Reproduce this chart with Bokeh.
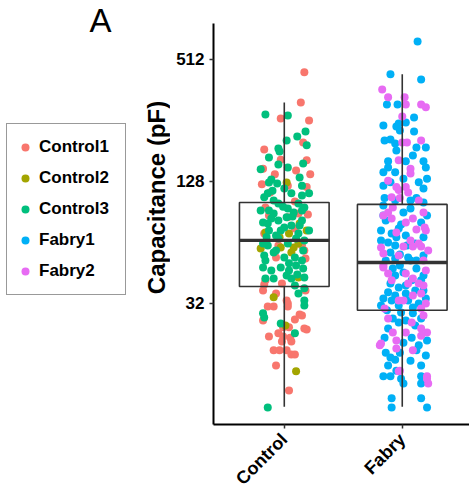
from math import pi
from bokeh.plotting import figure
from bokeh.layouts import row
from bokeh.models import (ColumnDataSource, FixedTicker, BasicTickFormatter,
                          Legend, LegendItem, Label, Range1d)
from bokeh.embed import file_html
from bokeh.resources import INLINE

# ---------------- data ----------------
groups = ["Control", "Fabry"]
group_pos = [1, 2]
series_names = ["Control1", "Control2", "Control3", "Fabry1", "Fabry2"]
series_group = [1, 1, 1, 2, 2]
series_colors = ["#F8766D", "#A3A500", "#00BF7D", "#00B0F6", "#E76BF3"]
y_ticks = [32, 128, 512]

# jitter (category units) and capacitance (pF) of each cell
control1_jitter = [0.17, 0.14, -0.03, 0.21, 0.16, -0.17, -0.03, 0.19, -0.18, 0.10,
                   0.22, -0.08, -0.19, 0.19, 0.03, -0.12, 0.09, -0.16, 0.03, 0.12,
                   0.20, -0.17, 0.09, -0.05, 0.17, -0.07, 0.18, -0.16, -0.02, -0.17,
                   0.18, -0.18, -0.07, -0.14, -0.09, 0.03, 0.13, 0.15, 0.09, -0.01,
                   0.04, 0.19, -0.05, -0.13, -0.01, 0.05, -0.02, 0.06, -0.09, -0.04,
                   0.02, 0.06, 0.09, -0.07, 0.04, 0.17, 0.03, -0.13, 0.15, 0.02,
                   -0.18]
control1_pf = [442, 314, 262, 256, 199, 184, 164, 163, 148, 145,
               139, 139, 124, 120, 122, 113, 102, 95.2, 85.1, 89.0,
               88.0, 70.9, 75.0, 61.9, 58.4, 54.0, 53.4, 41.6, 40.2, 39.7,
               37.1, 37.1, 35.8, 30.9, 30.9, 30.9, 28.2, 27.9, 26.7, 24.4,
               24.4, 23.8, 22.8, 22.0, 22.0, 21.7, 20.8, 20.8, 18.8, 18.8,
               18.8, 17.9, 17.9, 15.8, 11.9, 24.1, 32.0, 87.0, 61.9, 33.1,
               26.4]

control2_jitter = [0.02, 0.13, 0.19, 0.04, -0.04, -0.16, 0.12, 0.08, -0.03, -0.20,
                   0.06, 0.12, -0.09, 0.01, 0.10]
control2_pf = [126.5, 79.4, 73.3, 70.9, 67.8, 71.7, 63.3, 60.5, 60.5, 59.8,
               57.1, 43.0, 34.3, 24.9, 14.8]

control3_jitter = [-0.16, 0.03, 0.18, 0.11, -0.05, -0.04, -0.13, -0.05, 0.16, 0.03,
                   -0.20, 0.13, -0.11, -0.13, -0.06, 0.15, -0.17, -0.14, 0.06, 0.15,
                   0.21, -0.20, -0.13, -0.05, 0.03, 0.12, 0.17, -0.14, -0.05, 0.02,
                   0.15, 0.21, -0.13, 0.00, 0.12, -0.05, 0.03, 0.17, -0.17, -0.09,
                   0.00, 0.09, 0.16, -0.18, -0.11, -0.03, 0.04, 0.16, -0.16, -0.09,
                   0.06, 0.17, 0.17, 0.12, 0.17, 0.17, -0.17, -0.18, -0.03, 0.09,
                   -0.14, -0.09, 0.08, -0.03, -0.18, 0.10, -0.09, 0.15, 0.06, -0.18,
                   -0.07, 0.10, -0.14, 0.15, 0.02, -0.16, 0.09, 0.19, 0.02,
                   -0.11, 0.07, -0.01, 0.13, -0.07, 0.04, -0.15, 0.11, 0.00, -0.10]
control3_pf = [274, 271, 226, 213, 186, 180, 168, 155, 157, 150,
               147, 134, 131, 126.5, 125, 122, 107, 112, 112, 109,
               112, 92.1, 92.1, 99.7, 94.2, 99.7, 95.2, 79.4, 82.2, 85.1,
               82.2, 73.3, 73.3, 75.9, 70.9, 66.9, 63.3, 65.5, 55.2, 57.1,
               54.0, 54.0, 58.4, 48.2, 46.6, 48.2, 46.6, 47.6, 42.5, 42.5,
               42.5, 43.0, 38.0, 35.8, 33.1, 31.3, 27.3, 28.6, 25.5, 22.8,
               9.8, 89.0, 90.0, 73.3, 63.3, 49.3, 103, 92.1, 77.6, 80.3,
               69.3, 66.9, 61.9, 52.2, 44.0, 52.2, 39.3, 193, 204,
               84.1, 86.0, 96.0, 77.6, 58.4, 50.6, 68.0, 44.5, 118, 115]

fabry1_jitter = [0.13, -0.10, 0.16, -0.13, -0.04, 0.10, 0.03, -0.03, -0.05, -0.02,
                 0.10, -0.15, -0.10, -0.06, 0.12, 0.20, -0.12, 0.03, 0.18, -0.12,
                 -0.06, 0.20, 0.21, -0.16, -0.10, 0.14, 0.18, -0.15, -0.06, 0.12,
                 0.07, 0.01, -0.16, -0.14, -0.01, 0.16, -0.09, -0.05, -0.18, -0.12,
                 -0.06, 0.03, 0.11, -0.10, -0.02, 0.05, 0.18, -0.08, -0.06, 0.01,
                 0.12, 0.18, 0.16, -0.10, -0.03, 0.08, 0.11, -0.12, 0.03, -0.16,
                 -0.09, -0.03, 0.05, 0.14, 0.20, -0.13, -0.01, 0.09, -0.08, 0.03,
                 0.16, -0.12, -0.15, 0.08, 0.21, -0.14, -0.10, -0.06, 0.12, 0.20,
                 0.16, -0.16, -0.10, -0.05, -0.01, 0.01, 0.16, 0.16, -0.09, -0.09,
                 0.16, 0.21,
                 -0.16, 0.18, 0.07, 0.21, -0.03, -0.18, 0.18, 0.04, -0.06, -0.14,
                 0.07, -0.02, 0.12, 0.03, 0.18, -0.06, -0.18, 0.09, -0.03, 0.11,
                 0.01, 0.14, -0.02, 0.07, -0.12, 0.01, -0.16, 0.09, -0.05, -0.16]
fabry1_pf = [628, 432, 408, 307, 307, 265, 250, 247, 239, 228,
             226, 204, 206, 197, 188, 188, 161, 161, 161, 150,
             142, 150, 132, 122, 127, 127, 118, 106, 103, 106,
             103, 90.0, 87.0, 82.2, 78.5, 80.3, 70.9, 67.8, 65.5, 64.0,
             61.9, 69.3, 63.3, 57.1, 55.8, 54.0, 55.2, 47.6, 44.0, 45.5,
             47.6, 44.0, 41.6, 40.2, 38.4, 41.6, 37.1, 36.3, 35.8, 33.9,
             33.1, 31.3, 33.1, 32.0, 33.9, 29.6, 28.9, 28.6, 27.0, 26.4,
             27.0, 24.1, 21.7, 21.7, 21.0, 18.3, 17.3, 16.9, 18.8, 17.7,
             15.8, 14.0, 14.0, 14.9, 13.6, 12.9, 14.0, 12.9, 10.9, 9.8,
             10.9, 9.8,
             97.5, 100.8, 94.2, 87.0, 75.0, 73.3, 67.8, 61.9, 53.4, 52.2,
             52.2, 49.3, 52.2, 39.3, 37.1, 35.0, 31.3, 30.6, 25.8, 24.9,
             20.5, 19.9, 18.3, 16.7, 15.8, 132, 142, 172, 182, 242]

fabry2_jitter = [-0.17, -0.12, 0.02, 0.03, 0.16, 0.20, 0.00, 0.00, 0.04, 0.07,
                 0.07, -0.05, -0.03, -0.09, -0.02, -0.08, -0.09, 0.09, 0.19, 0.12,
                 0.01, 0.16, 0.09, -0.18, -0.16, -0.16, -0.12, 0.03, 0.09, 0.05,
                 0.18, 0.09, -0.03, 0.20, -0.15, 0.16, 0.18, -0.08, 0.16, 0.21,
                 0.16, -0.19, -0.05, -0.05, -0.03, 0.21, 0.22, -0.16, 0.18, 0.20,
                 0.14, -0.16, 0.20, 0.16, -0.18, -0.02, 0.21, 0.03,
                 0.05, 0.14, -0.12, 0.03, -0.05, 0.07, 0.22, -0.03, 0.18, -0.09,
                 0.14, 0.01, -0.12, 0.08, 0.03, 0.09, -0.12, 0.16, -0.03]
fabry2_pf = [364, 333, 333, 307, 307, 297, 268, 199, 199, 148,
             140, 120, 116, 107, 106, 95.2, 84.1, 84.1, 75.9, 74.2,
             61.2, 61.2, 61.2, 60.5, 56.5, 49.3, 45.0, 45.0, 42.5, 40.2,
             39.3, 35.0, 33.1, 32.0, 30.2, 30.2, 27.9, 23.0, 24.1, 23.0,
             22.2, 19.9, 21.0, 19.2, 14.8, 14.0, 12.9, 87.0, 90.0, 73.3,
             63.3, 48.2, 46.6, 35.8, 20.3, 14.9, 13.6, 120,
             113, 103, 90.0, 80.3, 71.7, 65.5, 58.4, 55.2, 52.2, 41.6,
             40.2, 33.1, 27.0, 25.8, 23.0, 18.8, 129, 204, 163]

series_jitter = [control1_jitter, control2_jitter, control3_jitter, fabry1_jitter, fabry2_jitter]
series_pf = [control1_pf, control2_pf, control3_pf, fabry1_pf, fabry2_pf]

# box-plot statistics (pF)
box_q1 = [38.8, 29.6]
box_median = [65.5, 51.0]
box_q3 = [100.8, 98.6]
whisker_low = [9.9, 9.9]
whisker_high = [314, 432]

# ---------------- styling ----------------
FONT = "Liberation Sans"
INK = "#333333"

# ---------------- main plot ----------------
p = figure(width=299, height=500,
           x_range=Range1d(0.4, 2.57), y_range=Range1d(8.09, 770),
           y_axis_type="log", output_backend="svg", toolbar_location=None,
           min_border_left=43, min_border_right=0, min_border_top=23,
           min_border_bottom=76)
p.outline_line_color = None
p.xgrid.visible = False
p.ygrid.visible = False

for name, grp, col, jit, vals in zip(series_names, series_group, series_colors,
                                     series_jitter, series_pf):
    src = ColumnDataSource(dict(x=[grp + j for j in jit], y=vals))
    p.scatter("x", "y", source=src, size=8, fill_color=col, line_color=None)

half = 0.38
bsrc = ColumnDataSource(dict(
    left=[g - half for g in group_pos], right=[g + half for g in group_pos],
    pos=group_pos, q1=box_q1, med=box_median, q3=box_q3,
    lo=whisker_low, hi=whisker_high))
p.segment(x0="pos", x1="pos", y0="q3", y1="hi", source=bsrc, line_color=INK, line_width=1.6)
p.segment(x0="pos", x1="pos", y0="lo", y1="q1", source=bsrc, line_color=INK, line_width=1.6)
p.quad(left="left", right="right", bottom="q1", top="q3", source=bsrc,
       fill_color=None, line_color=INK, line_width=1.6)
p.segment(x0="left", x1="right", y0="med", y1="med", source=bsrc,
          line_color=INK, line_width=3.4)

for ax in (p.xaxis[0], p.yaxis[0]):
    ax.axis_line_color = "black"
    ax.axis_line_width = 2
    ax.major_tick_line_color = INK
    ax.major_tick_line_width = 1.5
    ax.major_tick_out = 4
    ax.major_tick_in = 0
    ax.minor_tick_line_color = None
    ax.major_label_text_font = FONT
    ax.major_label_text_font_style = "bold"
    ax.major_label_text_font_size = "17px"
    ax.major_label_text_color = "black"

p.yaxis.ticker = FixedTicker(ticks=y_ticks, minor_ticks=[])
p.yaxis.formatter = BasicTickFormatter()
p.yaxis.major_label_standoff = 5

p.xaxis.ticker = FixedTicker(ticks=group_pos, minor_ticks=[])
p.xaxis.major_label_overrides = {g: n for g, n in zip(group_pos, groups)}
p.xaxis.major_label_orientation = pi / 4
p.xaxis.major_label_standoff = 8
p.xaxis.major_label_text_font_size = "18px"

# ---------------- left panel: tag, axis title, legend ----------------
side = figure(width=170, height=500, x_range=Range1d(0, 170), y_range=Range1d(500, 0),
              output_backend="svg", toolbar_location=None,
              x_axis_location=None, y_axis_location=None, min_border=0)
side.frame_align = False
side.outline_line_color = None
side.xgrid.visible = False
side.ygrid.visible = False

side.add_layout(Label(x=100, y=20, text="A", text_align="center",
                      text_baseline="alphabetic", text_font=FONT,
                      text_font_size="33px", text_color="black"))
side.add_layout(Label(x=156, y=197, text="Capacitance (pF)", angle=pi / 2,
                      text_align="center", text_baseline="middle",
                      text_font=FONT, text_font_style="bold",
                      text_font_size="24px", text_color="black"))

items = []
for name, col in zip(series_names, series_colors):
    # off-canvas stand-in so the legend has a glyph to draw
    r = side.scatter(x=[-50], y=[-50], size=8, fill_color=col, line_color=None)
    items.append(LegendItem(label=name, renderers=[r]))

legend = Legend(items=items, location=(6, 205), orientation="vertical",
                border_line_color=INK, border_line_width=1.2,
                background_fill_color="white", background_fill_alpha=1,
                label_text_font=FONT, label_text_font_style="bold",
                label_text_font_size="17px", label_text_color="black",
                glyph_width=20, glyph_height=30, label_height=30, label_width=78,
                label_standoff=4, spacing=1, padding=8, margin=0)
side.add_layout(legend, "center")

layout = row(side, p, spacing=0)
open("out.html", "w").write(file_html(layout, INLINE))
